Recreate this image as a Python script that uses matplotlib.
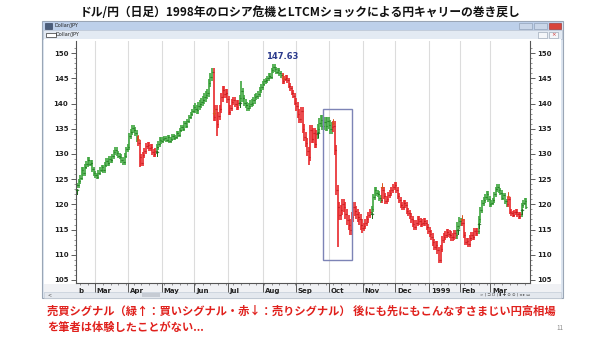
import numpy as np
import matplotlib
matplotlib.use("Agg")
import matplotlib.pyplot as plt
from matplotlib.patches import Rectangle

plt.rcParams['font.family'] = ['Noto Sans CJK JP', 'DejaVu Sans']

#%% data: daily USD/JPY closes, Feb 1998 - Mar 1999
feb98 = [123.8, 124.6, 125.3, 126.9, 126.2, 127.5, 128.0, 128.8, 128.1, 128.2, 127.0, 126.2]
mar98 = [125.8, 125.5, 126.3, 126.9, 127.4, 126.8, 127.9, 128.6, 128.2, 129.0, 128.7,
         129.5, 130.3, 130.8, 130.1, 129.6, 129.4, 128.8, 128.4, 129.6, 130.9, 131.4]
apr98 = [133.5, 134.3, 135.2, 134.8, 134.2, 133.0, 132.2, 129.4, 128.2, 129.8, 130.6,
         131.5, 131.8, 131.2, 131.4, 130.4, 130.0, 130.5, 131.3, 132.0, 132.8, 132.5]
may98 = [133.0, 133.2, 132.7, 133.4, 132.6, 132.9, 133.6, 133.2, 133.4, 134.2, 133.8,
         134.8, 135.3, 135.0, 136.2, 135.6, 136.5, 137.4, 137.9, 138.6, 139.4]
jun98 = [139.0, 138.8, 139.5, 139.9, 140.3, 140.7, 141.2, 141.6, 142.1, 144.0, 145.3,
         146.3, 137.4, 139.0, 136.0, 137.5, 139.0, 141.2, 142.7, 141.8, 142.0, 140.9]
jul98 = [138.4, 139.2, 140.3, 140.7, 140.0, 139.4, 140.1, 141.0, 142.5, 141.0, 140.2, 139.8,
         139.2, 139.6, 140.0, 140.2, 140.6, 141.2, 141.5, 141.9, 142.7, 143.3, 143.9]
aug98 = [144.4, 144.6, 145.0, 145.5, 145.3, 146.6, 147.3, 146.8, 146.3, 146.6, 146.0,
         145.6, 144.4, 144.9, 145.1, 144.6, 143.5, 143.0, 142.1, 141.5, 140.2]
sep98 = [139.5, 138.0, 137.0, 138.5, 135.0, 133.4, 132.2, 130.5, 129.4, 134.8, 133.0,
         134.2, 132.0, 133.9, 135.0, 136.2, 136.8, 135.6, 136.4, 135.5, 136.5, 135.8]
oct98 = [135.0, 135.4, 135.5, 130.8, 122.9, 119.5, 117.8, 118.9, 120.0, 119.5, 118.0,
         116.9, 116.0, 115.0, 117.5, 119.5, 118.6, 118.0, 117.5, 117.0, 116.0, 115.3]
nov98 = [115.8, 116.4, 117.0, 117.8, 118.4, 119.0, 121.5, 122.9, 122.3, 122.0, 121.2,
         120.9, 122.8, 121.6, 120.6, 121.0, 121.8, 122.3, 122.8, 123.4, 123.9]
dec98 = [122.8, 121.7, 120.8, 119.8, 119.5, 120.3, 119.8, 118.6, 118.3, 117.6, 117.0,
         116.2, 115.6, 116.3, 117.0, 116.6, 116.2, 116.4, 116.7, 116.3, 115.6, 114.8]
jan99 = [114.2, 113.6, 112.5, 111.6, 112.0, 110.9, 109.0, 111.2, 113.0, 113.6,
         114.0, 114.5, 114.2, 114.0, 113.5, 113.6, 114.3, 113.9, 115.8, 116.7]
feb99 = [116.3, 116.4, 114.0, 112.6, 112.8, 112.2, 113.4, 114.0, 113.6, 114.8,
         114.3, 114.8, 117.0, 118.9, 120.2, 120.9, 121.4, 122.0, 121.0, 120.0]
mar99 = [120.3, 120.8, 122.0, 123.0, 123.5, 122.8, 122.3, 121.3, 121.8, 120.6, 120.0, 121.0,
         118.5, 118.2, 117.9, 118.4, 118.5, 118.0, 117.6, 118.0, 119.8, 120.3, 120.7, 119.5]

months = [feb98, mar98, apr98, may98, jun98, jul98, aug98, sep98, oct98, nov98, dec98, jan99, feb99, mar99]
month_labels = ['b', 'Mar', 'Apr', 'May', 'Jun', 'Jul', 'Aug', 'Sep', 'Oct', 'Nov', 'Dec', '1999', 'Feb', 'Mar']
# typical intraday overshoot beyond open/close, per month (yen)
month_wick = [0.5, 0.5, 0.6, 0.4, 0.8, 0.6, 0.5, 0.9, 1.0, 0.6, 0.6, 0.7, 0.6, 0.5]

# long wicks (bar index, extreme price)
wick_idx = [41, 91, 107, 128, 151, 170, 236]
wick_val = [127.5, 133.5, 144.4, 147.63, 127.8, 111.6, 108.3]

# trade signals (bar index)
buy_idx = [0, 52, 106, 157, 192, 248, 262, 290]
sell_idx = [40, 89, 134, 167, 199, 251, 281]

close = np.concatenate(months)
n = len(close)
starts = np.cumsum([0] + [len(m) for m in months[:-1]])
wick = np.concatenate([[w] * len(m) for w, m in zip(month_wick, months)])

# 強気/弱気 の色分け
signals = sorted([(i, 'g') for i in buy_idx] + [(i, 'r') for i in sell_idx])
state = []
cur = 'g'
k = 0
for i in range(n):
    while k < len(signals) and signals[k][0] <= i:
        cur = signals[k][1]
        k += 1
    state.append(cur)
GREEN, RED = '#3da53d', '#e8282b'
DGREEN, DRED = '#1f7a1f', '#c41a1d'
cols = [GREEN if s == 'g' else RED for s in state]
dcols = [DGREEN if s == 'g' else DRED for s in state]

openp = np.r_[close[0], close[:-1]]
lo = np.minimum(openp, close) - wick
hi = np.maximum(openp, close) + wick
for i, v in zip(wick_idx, wick_val):
    lo[i] = min(lo[i], v)
    hi[i] = max(hi[i], v)

#%% figure + window chrome
W, H = 600, 341
fig = plt.figure(figsize=(W / 100, H / 100), dpi=100)
fig.patch.set_facecolor('white')

def box(x0, y0, x1, y1, **kw):
    r = Rectangle((x0 / W, 1 - y1 / H), (x1 - x0) / W, (y1 - y0) / H,
                  transform=fig.transFigure, zorder=-5, **kw)
    fig.add_artist(r)
    return r

def ftext(x, y, s, **kw):
    fig.text(x / W, 1 - y / H, s, **kw)

box(42, 21, 563, 298, facecolor='#dde6f1', edgecolor='#9aa6b6', lw=0.8)
box(43, 21.5, 562, 30, facecolor='#bdd0ea', edgecolor='none')
box(45, 23, 52, 28.5, facecolor='#4a5d7a', edgecolor='#2a3550', lw=0.4)
ftext(55, 25.8, 'Dollar/JPY', fontsize=3.6, color='#222', va='center', family='DejaVu Sans')
box(519, 23, 532, 28.5, facecolor='#c9d6e8', edgecolor='#8797ad', lw=0.4)
box(534, 23, 547, 28.5, facecolor='#c9d6e8', edgecolor='#8797ad', lw=0.4)
box(549, 23, 561, 28.5, facecolor='#d8453b', edgecolor='#9a2d27', lw=0.4)
box(43, 30, 562, 39, facecolor='#e3eaf3', edgecolor='#b5c1d1', lw=0.5)
box(46, 32.5, 56, 37, facecolor='white', edgecolor='#333', lw=0.5)
ftext(56, 34.5, 'Dollar/JPY', fontsize=3.6, color='#222', va='center', family='DejaVu Sans')
box(538, 32, 547, 37.5, facecolor='#f4f6f9', edgecolor='#8e9aab', lw=0.4)
box(549, 32, 558, 37.5, facecolor='#f4f6f9', edgecolor='#8e9aab', lw=0.4)
ftext(553.5, 34.8, '×', fontsize=4, color='#c33', ha='center', va='center', family='DejaVu Sans')
box(44, 39, 561, 292, facecolor='white', edgecolor='none')
box(44, 283.5, 561, 292, facecolor='#f0f1f4', edgecolor='none')
box(44, 292, 561, 297.5, facecolor='#e4e8ee', edgecolor='#c2c9d3', lw=0.4)
box(142, 292.8, 160, 296.8, facecolor='#c6cbd3', edgecolor='none')
ftext(47, 295, '<', fontsize=3.5, color='#555', va='center', family='DejaVu Sans')
ftext(480, 295, '> | ⊐ D | ▮ ✚ ⊙ ⊙ | ◂ ▸ ▭', fontsize=3.0, color='#444',
      va='center', family='DejaVu Sans')

#%% chart
ax = fig.add_axes([76 / W, 1 - 283 / H, (530 - 76) / W, (283 - 41) / H])
ax.set_facecolor('white')
ax.set_xlim(-0.65, n + 1.3)
ax.set_ylim(104.4, 152.4)

for s in starts[1:]:
    ax.axvline(s - 0.5, color='#dcdcdc', lw=0.8, zorder=0)

x = np.arange(n)
ax.vlines(x, lo, hi, colors=cols, lw=1.2, zorder=2)
ax.hlines(openp, x - 0.55, x, colors=dcols, lw=0.8, zorder=2)
ax.hlines(close, x, x + 0.55, colors=dcols, lw=0.8, zorder=2)

for i in buy_idx:
    ax.text(i, close[i] - 1.4, '↑', color='#1d6b1d', fontsize=6, fontweight='bold',
            ha='center', va='center', family='DejaVu Sans', zorder=4)
for i in sell_idx:
    ax.text(i, close[i] + 0.8, '↓', color='#d9531e', fontsize=6, fontweight='bold',
            ha='center', va='center', family='DejaVu Sans', zorder=4)

ax.text(134, 149.4, '147.63', color='#2b3a8c', fontsize=6, fontweight='bold',
        ha='center', va='center', family='DejaVu Sans')
ax.add_patch(Rectangle((160.5, 109), 18.8, 30, fill=False, edgecolor='#7d84b6', lw=1.0, zorder=5))

# axes styling
ax.spines['top'].set_visible(False)
for side in ['left', 'right', 'bottom']:
    ax.spines[side].set_color('#555')
    ax.spines[side].set_linewidth(0.8)
ax.set_yticks(np.arange(105, 151, 5))
ax.set_yticks(np.arange(105, 152, 1), minor=True)
ax.tick_params(axis='y', which='both', left=True, right=True, labelleft=True, labelright=True,
               direction='out', colors='#444', labelsize=5, labelcolor='#222')
ax.tick_params(axis='y', which='major', length=3.5, width=0.6, pad=2)
ax.tick_params(axis='y', which='minor', length=1.5, width=0.4)
for lab in ax.get_yticklabels():
    lab.set_fontweight('bold')
    lab.set_family('DejaVu Sans')

ax.set_xticks(starts[1:] - 0.5)
ax.set_xticks(np.arange(2, n, 5), minor=True)
ax.set_xticklabels([])
ax.tick_params(axis='x', which='major', direction='out', length=6.5, width=0.6, colors='#444')
ax.tick_params(axis='x', which='minor', direction='out', length=1.5, width=0.4, colors='#444')
for s, lab in zip(starts, month_labels):
    ax.text(s + 0.6, -0.022, lab, transform=ax.get_xaxis_transform(), fontsize=5,
            fontweight='bold', color='#222', ha='left', va='top', family='DejaVu Sans')

#%% title and notes
ftext(300, 12, 'ドル/円（日足）1998年のロシア危機とLTCMショックによる円キャリーの巻き戻し',
      fontsize=8.5, fontweight='bold', color='#111', ha='center', va='center')
ftext(47, 311, '売買シグナル（緑↑：買いシグナル・赤↓：売りシグナル） 後にも先にもこんなすさまじい円高相場',
      fontsize=8.1, fontweight='bold', color='#e0201c', ha='left', va='center')
ftext(47, 327, 'を筆者は体験したことがない...',
      fontsize=8.1, fontweight='bold', color='#e0201c', ha='left', va='center')
ftext(560, 328, '11', fontsize=4.5, color='#888', ha='center', va='center')

fig.savefig('out.png', dpi=100)
